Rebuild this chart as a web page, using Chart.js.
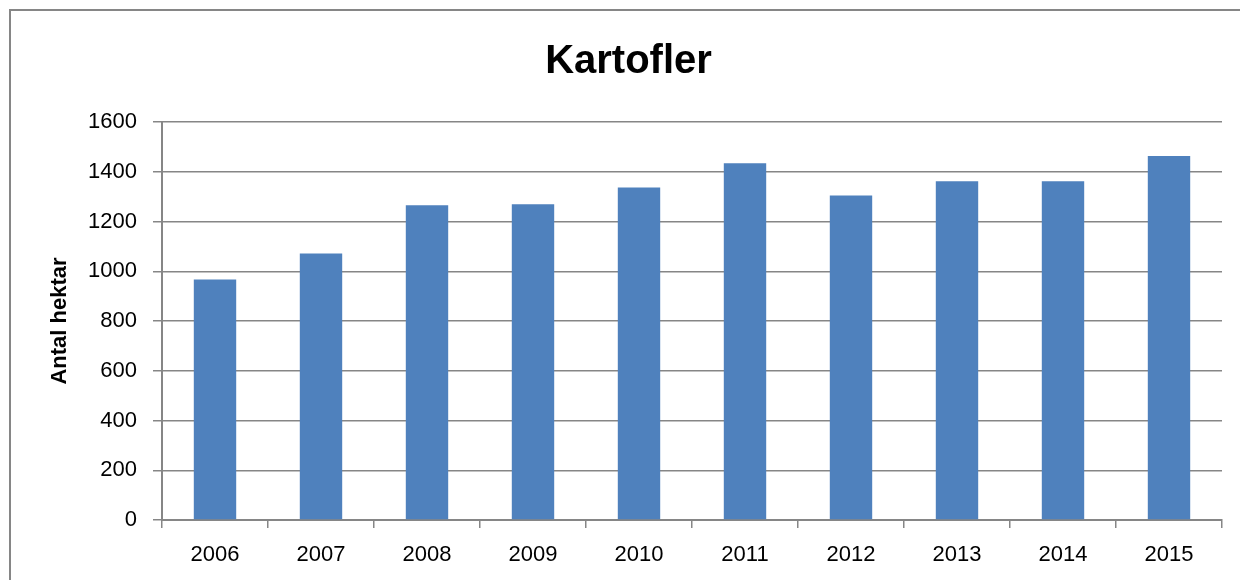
<!DOCTYPE html>
<html>
<head>
<meta charset="utf-8">
<title>Kartofler</title>
<script src="https://cdn.jsdelivr.net/npm/chart.js@4.4.1/dist/chart.umd.min.js"></script>
<style>
    html, body { margin: 0; padding: 0; background: #fff; }
    #wrap { width: 1240px; height: 580px; position: relative; }
</style>
</head>
<body>
<div id="wrap"><canvas id="potatoChart"></canvas></div>
<script>
// ======================
// Data
// ======================
const years = ['2006', '2007', '2008', '2009', '2010', '2011', '2012', '2013', '2014', '2015'];
const hectares = [967, 1071, 1265, 1269, 1337, 1434, 1305, 1362, 1362, 1463];
const yTicks = [0, 200, 400, 600, 800, 1000, 1200, 1400, 1600];

const axisGray = '#868686';
const fontFamily = '"Liberation Sans", Arial, sans-serif';

// frame like the Excel chart border (top + left edge only visible)
const framePlugin = {
    id: 'frame',
    afterDraw(chart) {
        const ctx = chart.ctx;
        ctx.save();
        ctx.strokeStyle = axisGray;
        ctx.lineWidth = 2;
        ctx.beginPath();
        ctx.moveTo(10, 580);
        ctx.lineTo(10, 10);
        ctx.lineTo(1240, 10);
        ctx.stroke();
        ctx.restore();
    }
};

// ======================
// Kartofler Chart
// ======================
const potatoCanvas = document.getElementById('potatoChart');

if (potatoCanvas) {
    new Chart(potatoCanvas, {
        type: 'bar',
        data: {
            labels: years,
            datasets: [{
                label: 'Antal hektar',
                data: hectares,
                backgroundColor: '#4F81BD',
                borderWidth: 0,
                barPercentage: 0.4,
                categoryPercentage: 1.0
            }]
        },
        options: {
            responsive: true,
            maintainAspectRatio: false,
            animation: false,
            layout: {
                padding: { left: 35, right: 18, top: 10, bottom: 0 }
            },
            scales: {
                x: {
                    afterFit: function (scale) {
                        scale.height = 60;
                    },
                    grid: {
                        drawOnChartArea: false,
                        color: axisGray,
                        lineWidth: 1.5,
                        tickLength: 8
                    },
                    border: { color: axisGray, width: 2 },
                    ticks: {
                        color: '#000',
                        padding: 14,
                        font: { size: 22, family: fontFamily }
                    }
                },
                y: {
                    min: 0,
                    max: 1600,
                    afterBuildTicks: function (scale) {
                        scale.ticks = yTicks.map(v => ({ value: v }));
                    },
                    afterFit: function (scale) {
                        scale.width = 127;
                    },
                    grid: {
                        color: axisGray,
                        lineWidth: 1.5,
                        tickLength: 9
                    },
                    border: { color: axisGray, width: 2 },
                    ticks: {
                        color: '#000',
                        padding: 16,
                        font: { size: 22, family: fontFamily },
                        callback: function (value) {
                            return String(value);
                        }
                    },
                    title: {
                        display: true,
                        text: 'Antal hektar',
                        color: '#000',
                        padding: { top: 12, bottom: 0 },
                        font: { size: 22, weight: 'bold', family: fontFamily }
                    }
                }
            },
            plugins: {
                legend: {
                    display: false
                },
                tooltip: {
                    enabled: false
                },
                title: {
                    display: true,
                    text: 'Kartofler',
                    color: '#000',
                    padding: { top: 28, bottom: 36 },
                    font: { size: 40, weight: 'bold', family: fontFamily }
                }
            }
        },
        plugins: [framePlugin]
    });
}
</script>
</body>
</html>
